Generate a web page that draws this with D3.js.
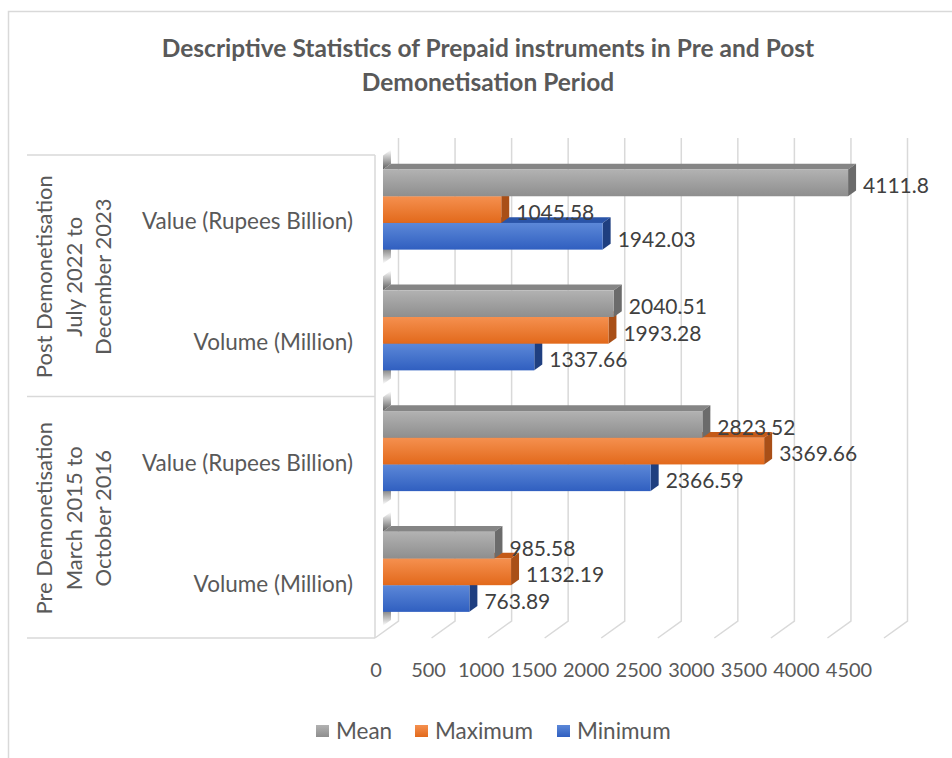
<!DOCTYPE html>
<html>
<head>
<meta charset="utf-8">
<script src="https://cdn.jsdelivr.net/npm/d3@7/dist/d3.min.js"></script>
<style>
  html, body { margin: 0; padding: 0; background: #ffffff; }
  svg text { font-family: Lato, "Open Sans", sans-serif; }
</style>
</head>
<body>
<svg id="chart" width="952" height="758"></svg>
<script>
// ---- data ----
const categories = ["Value (Rupees Billion)", "Volume (Million)", "Value (Rupees Billion)", "Volume (Million)"];
const groupIndex = [0, 0, 1, 1];
const groupLabels = [
  ["Post Demonetisation", "July 2022 to", "December 2023"],
  ["Pre Demonetisation", "March 2015 to", "October 2016"]
];
const seriesNames = ["Mean", "Maximum", "Minimum"];
const meanValues = [4111.8, 2040.51, 2823.52, 985.58];
const maximumValues = [1045.58, 1993.28, 3369.66, 1132.19];
const minimumValues = [1942.03, 1337.66, 2366.59, 763.89];
const tickValues = [0, 500, 1000, 1500, 2000, 2500, 3000, 3500, 4000, 4500];
const titleLines = ["Descriptive Statistics of Prepaid instruments in Pre and Post", "Demonetisation Period"];

const seriesValues = { "Mean": meanValues, "Maximum": maximumValues, "Minimum": minimumValues };

// ---- style ----
const colors = {
  "Mean":    { top: "#b2b2b2", bottom: "#8e8e8e", cap: "#858585", side: "#6b6b6b" },
  "Maximum": { top: "#f5904f", bottom: "#e2691b", cap: "#c45a18", side: "#a94f17" },
  "Minimum": { top: "#5c88d8", bottom: "#305fc0", cap: "#2a54a8", side: "#1f3f80" }
};
const gridColor = "#d9d9d9";
const textColor = "#595959";
const labelColor = "#404040";

const svg = d3.select("#chart");
const defs = svg.append("defs");

seriesNames.forEach((s, k) => {
  const g = defs.append("linearGradient").attr("id", "grad" + k)
    .attr("x1", 0).attr("y1", 0).attr("x2", 0).attr("y2", 1);
  g.append("stop").attr("offset", "0%").attr("stop-color", colors[s].top);
  g.append("stop").attr("offset", "100%").attr("stop-color", colors[s].bottom);
});
const sh1 = defs.append("linearGradient").attr("id", "shadowUp").attr("x1", 0).attr("y1", 1).attr("x2", 0).attr("y2", 0);
sh1.append("stop").attr("offset", "0%").attr("stop-color", "#404040").attr("stop-opacity", 0.85);
sh1.append("stop").attr("offset", "100%").attr("stop-color", "#404040").attr("stop-opacity", 0);
const sh2 = defs.append("linearGradient").attr("id", "shadowDown").attr("x1", 0).attr("y1", 0).attr("x2", 0).attr("y2", 1);
sh2.append("stop").attr("offset", "0%").attr("stop-color", "#404040").attr("stop-opacity", 0.85);
sh2.append("stop").attr("offset", "100%").attr("stop-color", "#404040").attr("stop-opacity", 0);

// chart border
svg.append("rect").attr("x", 8.5).attr("y", 11.5).attr("width", 990).attr("height", 800)
  .attr("fill", "#fff").attr("stroke", gridColor).attr("stroke-width", 1.5);

// ---- scales / projection ----
const plotTop = 155, plotBottom = 638;
const x = d3.scaleLinear().domain([0, 4500]).range([375, 884]);
const xLabel = d3.scaleLinear().domain([0, 4500]).range([376, 849]);
const y = d3.scaleBand().domain(d3.range(categories.length)).range([plotTop, plotBottom])
  .paddingInner(0.337).paddingOuter(0.1685);
const ySub = d3.scaleBand().domain(seriesNames).range([0, y.bandwidth()]);
const DX = 23.5, DY = -17;           // full depth offset
const z0 = 0.34, z1 = 0.68;          // bar depth position
const P = (xf, yf, z) => [xf + DX * z, yf + DY * z];
const pts = arr => arr.map(p => p.join(",")).join(" ");

// ---- back wall & floor gridlines ----
const grid = svg.append("g").attr("stroke", gridColor).attr("stroke-width", 1.5).attr("fill", "none");
tickValues.forEach(v => {
  const b0 = P(x(v), plotTop, 1), b1 = P(x(v), plotBottom, 1), f = P(x(v), plotBottom, 0);
  grid.append("polyline").attr("points", pts([b0, b1, f]));
});
grid.append("line").attr("x1", x(0)).attr("x2", x(0)).attr("y1", plotTop).attr("y2", plotBottom);

// ---- category label box ----
const boxYs = [plotTop, (plotTop + plotBottom) / 2, plotBottom];
boxYs.forEach(yy => {
  svg.append("line").attr("x1", 27).attr("x2", x(0)).attr("y1", yy).attr("y2", yy)
    .attr("stroke", gridColor).attr("stroke-width", 1.5);
});

// ---- wall shadows ----
const shadows = svg.append("g");
categories.forEach((c, i) => {
  const top = y(i), bot = y(i) + y.bandwidth();
  shadows.append("polygon").attr("fill", "url(#shadowUp)")
    .attr("points", pts([P(x(0), top - 14, z0), P(x(0), top, z0), P(x(0), top, z1), P(x(0), top - 14, z1)]));
  shadows.append("polygon").attr("fill", "url(#shadowDown)")
    .attr("points", pts([P(x(0), bot, z0), P(x(0), bot + 14, z0), P(x(0), bot + 14, z1), P(x(0), bot, z1)]));
});

// ---- bars ----
const bars = svg.append("g");
categories.forEach((c, i) => {
  seriesNames.slice().reverse().forEach(s => {
    const k = seriesNames.indexOf(s);
    const v = seriesValues[s][i];
    const y0 = y(i) + ySub(s), y1 = y0 + ySub.bandwidth();
    const xa = x(0), xb = x(v);
    bars.append("polygon").attr("fill", colors[s].cap)
      .attr("points", pts([P(xa, y0, z0), P(xb, y0, z0), P(xb, y0, z1), P(xa, y0, z1)]));
    bars.append("polygon").attr("fill", colors[s].side)
      .attr("points", pts([P(xb, y0, z0), P(xb, y1, z0), P(xb, y1, z1), P(xb, y0, z1)]));
    const f0 = P(xa, y0, z0), f1 = P(xb, y1, z0);
    bars.append("rect").attr("x", f0[0]).attr("y", f0[1])
      .attr("width", f1[0] - f0[0]).attr("height", f1[1] - f0[1])
      .attr("fill", "url(#grad" + k + ")");
  });
});

// ---- data labels ----
const labels = svg.append("g").attr("fill", labelColor).attr("font-size", 21);
categories.forEach((c, i) => {
  seriesNames.forEach(s => {
    const v = seriesValues[s][i];
    const yc = y(i) + ySub(s) + ySub.bandwidth() / 2;
    const p = P(x(v), yc, z0);
    labels.append("text").attr("x", p[0] + 15).attr("y", p[1] + 3).attr("dy", "0.35em")
      .text(String(v));
  });
});

// ---- value axis tick labels ----
const axis = svg.append("g").attr("fill", textColor).attr("font-size", 20).attr("text-anchor", "middle");
tickValues.forEach(v => {
  axis.append("text").attr("x", xLabel(v)).attr("y", 670).attr("dy", "0.35em").text(v);
});

// ---- category labels ----
const cats = svg.append("g").attr("fill", textColor).attr("font-size", 22.5).attr("text-anchor", "end");
categories.forEach((c, i) => {
  cats.append("text").attr("x", 353).attr("y", y(i) + y.bandwidth() / 2 + 6).attr("dy", "0.35em").text(c);
});

// ---- group labels ----
const grp = svg.append("g").attr("fill", textColor).attr("font-size", 22).attr("text-anchor", "middle");
groupLabels.forEach((lines, g) => {
  const top = boxYs[g], bot = boxYs[g + 1];
  const cy = (top + bot) / 2 + 1;
  const t = grp.append("text").attr("transform", `translate(74,${cy}) rotate(-90)`);
  lines.forEach((ln, j) => {
    t.append("tspan").attr("x", 0).attr("y", (j - 1) * 29.5).attr("dy", "0.35em").text(ln);
  });
});

// ---- legend ----
const legendX = [316, 415, 557];
const legend = svg.append("g").attr("font-size", 22.5).attr("fill", textColor);
seriesNames.forEach((s, k) => {
  legend.append("rect").attr("x", legendX[k]).attr("y", 725).attr("width", 13).attr("height", 12)
    .attr("fill", "url(#grad" + k + ")");
  legend.append("text").attr("x", legendX[k] + 20).attr("y", 731).attr("dy", "0.35em").text(s);
});

// ---- title ----
const title = svg.append("g").attr("fill", textColor).attr("font-size", 24.5).attr("font-weight", "bold")
  .attr("text-anchor", "middle");
titleLines.forEach((ln, j) => {
  title.append("text").attr("x", 488).attr("y", 48 + j * 34).attr("dy", "0.35em").text(ln);
});
</script>
</body>
</html>
